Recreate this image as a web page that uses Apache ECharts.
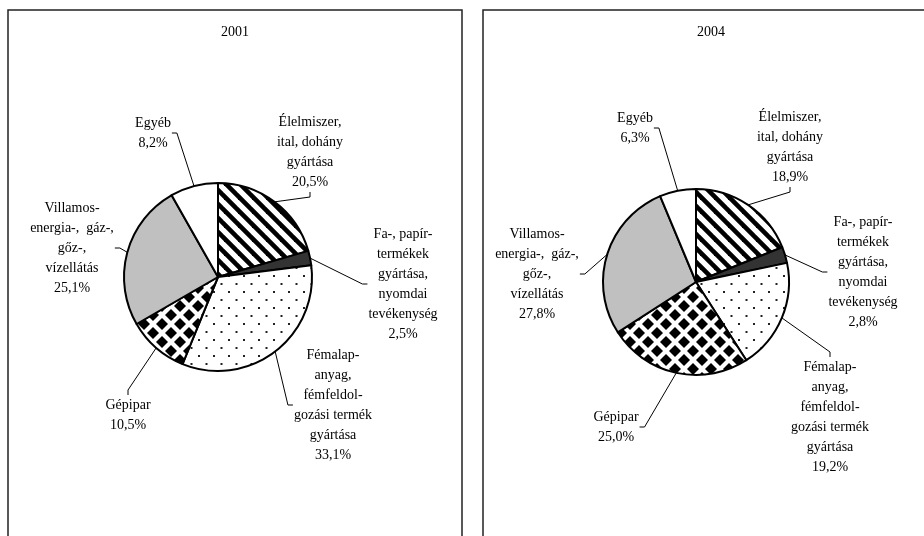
<!DOCTYPE html>
<html>
<head>
<meta charset="utf-8">
<script src="https://cdn.jsdelivr.net/npm/echarts@6/dist/echarts.min.js"></script>
<style>
html,body{margin:0;padding:0;background:#fff;}
#chart{width:924px;height:536px;}
</style>
</head>
<body>
<div id="chart"></div>
<script>
// ---- Data ----
var categories = [
  'Élelmiszer,\nital, dohány\ngyártása',
  'Fa-, papír-\ntermékek\ngyártása,\nnyomdai\ntevékenység',
  'Fémalap-\nanyag,\nfémfeldol-\ngozási termék\ngyártása',
  'Gépipar',
  'Villamos-\nenergia-,  gáz-,\ngőz-,\nvízellátás',
  'Egyéb'
];
var years = ['2001', '2004'];
var values2001 = [20.5, 2.5, 33.1, 10.5, 25.1, 8.2];
var values2004 = [18.9, 2.8, 19.2, 25.0, 27.8, 6.3];

// ---- Label placement (layout only): [centerX, centerY, side of label where leader line attaches] ----
var labelPos2001 = [[310,152,'bottom'],[403,284,'left'],[333,405,'left'],[128,415,'top'],[72,248,'right'],[153,133,'right']];
var labelPos2004 = [[790,147,'bottom'],[863,272,'left'],[830,417,'top'],[616,427,'right'],[537,274,'right'],[635,128,'right']];

// ---- Patterns ----
function makeCanvas(w, h) {
  var c = document.createElement('canvas'); c.width = w; c.height = h; return c;
}
function stripes() {
  var s = 14, c = makeCanvas(s, s), g = c.getContext('2d');
  g.fillStyle = '#fff'; g.fillRect(0, 0, s, s);
  g.strokeStyle = '#000'; g.lineWidth = 4.6;
  for (var k = -1; k <= 1; k++) {
    g.beginPath(); g.moveTo(k * s - 2, -2); g.lineTo(k * s + s + 2, s + 2); g.stroke();
  }
  return c;
}
function diamonds() {
  var s = 18, c = makeCanvas(s, s), g = c.getContext('2d'), r = 6;
  g.fillStyle = '#fff'; g.fillRect(0, 0, s, s);
  g.fillStyle = '#000';
  [[0,0],[s,0],[0,s],[s,s],[s/2,s/2]].forEach(function (p) {
    g.beginPath();
    g.moveTo(p[0], p[1] - r); g.lineTo(p[0] + r, p[1]); g.lineTo(p[0], p[1] + r); g.lineTo(p[0] - r, p[1]);
    g.closePath(); g.fill();
  });
  return c;
}
function dots() {
  var w = 15, h = 16, c = makeCanvas(w, h), g = c.getContext('2d');
  g.fillStyle = '#fff'; g.fillRect(0, 0, w, h);
  g.fillStyle = '#222';
  g.fillRect(3, 3, 2, 2);
  g.fillRect(10.5, 11, 2, 2);
  return c;
}
var fills = [
  { image: stripes(), repeat: 'repeat' },
  '#333333',
  { image: dots(), repeat: 'repeat' },
  { image: diamonds(), repeat: 'repeat' },
  '#c0c0c0',
  '#ffffff'
];

function fmt(v) { return v.toFixed(1).replace('.', ',') + '%'; }

function buildData(vals) {
  return categories.map(function (name, i) {
    return { name: name, value: vals[i], itemStyle: { color: fills[i] } };
  });
}

var TICK = 5;
function pieSeries(vals, center, radius, pos) {
  return {
    type: 'pie',
    center: center,
    radius: radius,
    startAngle: 90,
    clockwise: true,
    avoidLabelOverlap: false,
    silent: true,
    animation: false,
    data: buildData(vals),
    itemStyle: { borderColor: '#000', borderWidth: 2 },
    label: {
      show: true,
      position: 'outside',
      formatter: function (p) { return p.name + '\n' + fmt(p.value); },
      fontFamily: 'Liberation Serif',
      fontSize: 14,
      lineHeight: 20,
      color: '#000',
      align: 'center'
    },
    labelLine: {
      show: true,
      length: 10,
      length2: 5,
      lineStyle: { color: '#000', width: 1 }
    },
    labelLayout: function (params) {
      var p = pos[params.dataIndex];
      var x = p[0], y = p[1], side = p[2];
      var w = params.labelRect.width, h = params.labelRect.height;
      var anchor, tick;
      if (side === 'right') { anchor = [x + w / 2 + 1, y]; tick = [anchor[0] + TICK, y]; }
      else if (side === 'left') { anchor = [x - w / 2 - 1, y]; tick = [anchor[0] - TICK, y]; }
      else if (side === 'top') { anchor = [x, y - h / 2]; tick = [x, anchor[1] - TICK]; }
      else { anchor = [x, y + h / 2]; tick = [x, anchor[1] + TICK]; }
      var res = { x: x, y: y, align: 'center', verticalAlign: 'middle' };
      if (params.labelLinePoints && params.labelLinePoints.length) {
        res.labelLinePoints = [params.labelLinePoints[0].slice(), tick, anchor];
      }
      return res;
    },
    emphasis: { disabled: true }
  };
}

var chart = echarts.init(document.getElementById('chart'), null, { renderer: 'canvas' });
chart.setOption({
  backgroundColor: '#fff',
  animation: false,
  graphic: [
    { type: 'rect', shape: { x: 8, y: 10, width: 454, height: 540 }, style: { fill: 'none', stroke: '#222', lineWidth: 1.5 }, silent: true },
    { type: 'rect', shape: { x: 483, y: 10, width: 460, height: 540 }, style: { fill: 'none', stroke: '#222', lineWidth: 1.5 }, silent: true },
    { type: 'text', x: 235, y: 32, style: { text: years[0], fontFamily: 'Liberation Serif', fontSize: 14, fill: '#000', align: 'center', verticalAlign: 'middle' }, silent: true },
    { type: 'text', x: 711, y: 32, style: { text: years[1], fontFamily: 'Liberation Serif', fontSize: 14, fill: '#000', align: 'center', verticalAlign: 'middle' }, silent: true }
  ],
  series: [
    pieSeries(values2001, [218, 277], 94, labelPos2001),
    pieSeries(values2004, [696, 282], 93, labelPos2004)
  ]
});
</script>
</body>
</html>
